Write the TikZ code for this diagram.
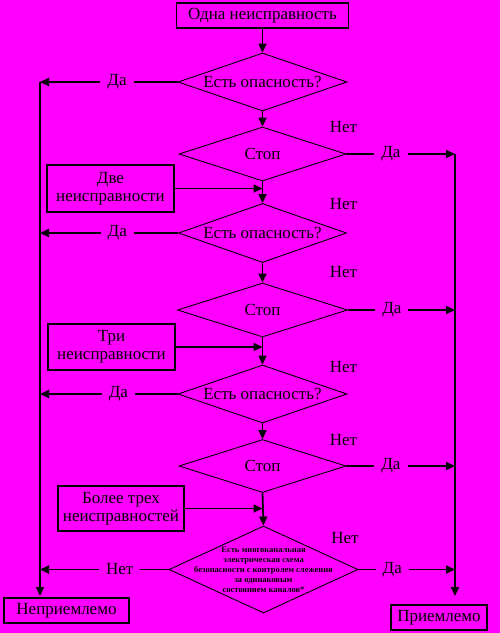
\documentclass[tikz,border=0pt]{standalone}
\usepackage{fontspec}
\setmainfont{Liberation Serif}
\usetikzlibrary{shapes.geometric,arrows.meta}
\definecolor{bg}{HTML}{FF00FF}
\begin{document}
\begin{tikzpicture}[x=1pt,y=-1pt,
  mainfont/.style={font=\fontsize{17}{18}\selectfont},
  boxnode/.style={draw, line width=1.8pt, inner sep=0pt, align=center, mainfont},
  dia/.style={diamond, draw, line width=0.9pt, inner sep=0pt},
  dtext/.style={mainfont, align=center, inner sep=0pt},
  arr/.style={line width=1.8pt, -{Triangle[length=9pt,width=8pt]}},
  plain/.style={line width=1.8pt},
  lbl/.style={fill=bg, inner xsep=7pt, inner ysep=1pt, mainfont},
  nolbl/.style={mainfont, inner sep=0pt}
]
\useasboundingbox (0,0) rectangle (500,633);
\fill[bg] (0,0) rectangle (500,633);

% boxes
\node[boxnode, minimum width=172, minimum height=25] (b0) at (262.5,15.5) {Одна неисправность};
\node[boxnode, minimum width=127, minimum height=47] (b2) at (110.5,188.5) {Две\\неисправности};
\node[boxnode, minimum width=127, minimum height=46] (b3) at (111.5,347) {Три\\неисправности};
\node[boxnode, minimum width=126, minimum height=45] (b4) at (121,508.5) {Более трех\\неисправностей};
\node[boxnode, minimum width=125, minimum height=25] (bad) at (66.5,610.5) {Неприемлемо};
\node[boxnode, minimum width=96, minimum height=25] (good) at (439,617.5) {Приемлемо};

% diamonds
\node[dia, minimum width=169, minimum height=58] (d1) at (262.5,82) {};
\node[dtext] (t1) at (d1.center) {Есть опасность?};
\node[dia, minimum width=167, minimum height=54] (d2) at (262.5,154) {};
\node[dtext] (t2) at (d2.center) {Стоп};
\node[dia, minimum width=168, minimum height=59] (d3) at (262.5,233) {};
\node[dtext] (t3) at (d3.center) {Есть опасность?};
\node[dia, minimum width=170, minimum height=54] (d4) at (262.5,310) {};
\node[dtext] (t4) at (d4.center) {Стоп};
\node[dia, minimum width=169, minimum height=58] (d5) at (262.5,394) {};
\node[dtext] (t5) at (d5.center) {Есть опасность?};
\node[dia, minimum width=167, minimum height=53] (d6) at (262.5,466) {};
\node[dtext] (t6) at (d6.center) {Стоп};
\node[dia, minimum width=189, minimum height=87] (d7) at (263.5,569.5) {};
\node[align=center, inner sep=0pt, font=\fontsize{8.5}{10}\selectfont\bfseries] (t7) at (d7.center)
  {Есть многоканальная\\электрическая схема\\безопасности с контролем слежения\\за одинаковым\\состоянием каналов*};

% side coordinates
\coordinate (Lt) at (40,82);
\coordinate (Lb) at (40,596);
\coordinate (Rt) at (455,154);
\coordinate (Rb) at (455,596);

% main vertical flow
\draw[arr] (b0.south) -- (d1.north);
\draw[arr] (d1.south) -- (d2.north);
\draw[arr] (d2.south) -- (d3.north);
\draw[arr] (d3.south) -- (d4.north);
\draw[arr] (d4.south) -- (d5.north);
\draw[arr] (d5.south) -- (d6.north);
\draw[arr] (d6.south) -- (d7.north);

% side inputs
\draw[arr] (b2.east) -- (b2.east -| d2.south);
\draw[arr] (b3.east) -- (b3.east -| d4.south);
\draw[arr] (b4.east) -- (b4.east -| d6.south);

% left exits
\draw[arr] (d1.west) -- node[lbl, pos=0.44] {Да} (d1.west -| Lt);
\draw[arr] (d3.west) -- node[lbl, pos=0.44] {Да} (d3.west -| Lt);
\draw[arr] (d5.west) -- node[lbl, pos=0.43] {Да} (d5.west -| Lt);
\draw[arr] (d7.west) -- node[lbl, pos=0.38] {Нет} (d7.west -| Lt);

% right exits
\draw[arr] (d2.east) -- node[lbl, pos=0.41] {Да} (d2.east -| Rt);
\draw[arr] (d4.east) -- node[lbl, pos=0.41] {Да} (d4.east -| Rt);
\draw[arr] (d6.east) -- node[lbl, pos=0.41] {Да} (d6.east -| Rt);
\draw[arr] (d7.east) -- node[lbl, pos=0.35] {Да} (d7.east -| Rt);

% verticals to results
\draw[arr] (Lt) -- (Lb);
\draw[arr] (Rt) -- (Rb);

% Нет labels
\node[nolbl] (n1) at (343.5,127) {Нет};
\node[nolbl] (n2) at (343.5,204) {Нет};
\node[nolbl] (n3) at (343.5,272) {Нет};
\node[nolbl] (n4) at (343.5,367) {Нет};
\node[nolbl] (n5) at (343.5,440) {Нет};
\node[nolbl] (n6) at (345,538) {Нет};
\end{tikzpicture}
\end{document}
